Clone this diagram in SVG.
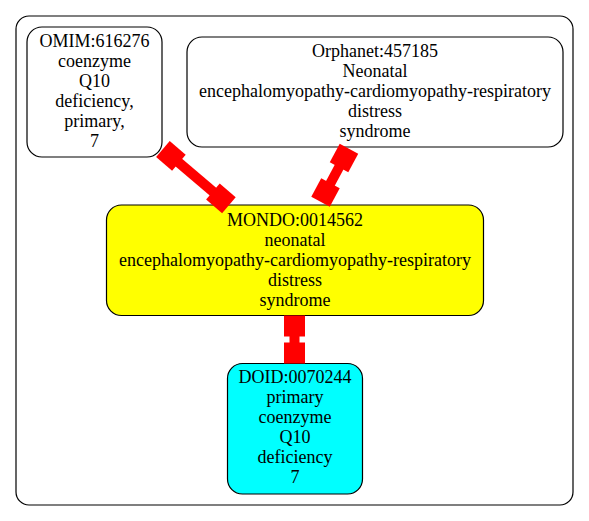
<svg xmlns="http://www.w3.org/2000/svg" width="589" height="521" viewBox="0 0 589 521">
<style>
.node{stroke:#000;stroke-width:1.2}
.t{font-family:"Liberation Serif","Times New Roman",serif;font-size:18px;text-anchor:middle;fill:#000}
.shaft{stroke:#f00;stroke-width:10;fill:none}
.tee{fill:#f00}
</style>
<defs>
<rect id="tee" class="tee" x="-10.5" y="-10.5" width="21" height="21"/>
</defs>
<rect x="16" y="16" width="557" height="489" rx="13" fill="#fff" stroke="#000" stroke-width="1.2"/>
<g id="node-omim">
<rect class="node" x="27" y="27" width="135" height="130" rx="15" fill="#fff"/>
<text class="t" x="94.5" y="46.5">OMIM:616276</text>
<text class="t" x="94.5" y="66.5">coenzyme</text>
<text class="t" x="94.5" y="86.5">Q10</text>
<text class="t" x="94.5" y="106.5">deficiency,</text>
<text class="t" x="94.5" y="126.5">primary,</text>
<text class="t" x="94.5" y="146.5">7</text>
</g>
<g id="node-orphanet">
<rect class="node" x="187" y="37" width="376" height="110" rx="15" fill="#fff"/>
<text class="t" x="375" y="56.5">Orphanet:457185</text>
<text class="t" x="375" y="76.5">Neonatal</text>
<text class="t" x="375" y="96.5">encephalomyopathy-cardiomyopathy-respiratory</text>
<text class="t" x="375" y="116.5">distress</text>
<text class="t" x="375" y="136.5">syndrome</text>
</g>
<g id="node-mondo">
<rect class="node" x="106.5" y="205" width="377" height="110.5" rx="15" fill="#ff0"/>
<text class="t" x="295" y="225.5">MONDO:0014562</text>
<text class="t" x="295" y="245.5">neonatal</text>
<text class="t" x="295" y="265.5">encephalomyopathy-cardiomyopathy-respiratory</text>
<text class="t" x="295" y="285.5">distress</text>
<text class="t" x="295" y="305.5">syndrome</text>
</g>
<g id="node-doid">
<rect class="node" x="227.5" y="363.5" width="135" height="130.5" rx="15" fill="#0ff"/>
<text class="t" x="295" y="383">DOID:0070244</text>
<text class="t" x="295" y="403">primary</text>
<text class="t" x="295" y="423">coenzyme</text>
<text class="t" x="295" y="443">Q10</text>
<text class="t" x="295" y="463">deficiency</text>
<text class="t" x="295" y="483">7</text>
</g>
<g id="connectors">
<g id="edge-omim-mondo">
<line class="shaft" x1="170.9" y1="155.9" x2="220.9" y2="198.4"/>
<use href="#tee" transform="translate(170.9,155.9) rotate(40.4)"/>
<use href="#tee" transform="translate(220.9,198.4) rotate(40.4)"/>
</g>
<g id="edge-orphanet-mondo">
<line class="shaft" x1="344" y1="158" x2="325.5" y2="192.5"/>
<use href="#tee" transform="translate(344,158) rotate(118.2)"/>
<use href="#tee" transform="translate(325.5,192.5) rotate(118.2)"/>
</g>
<g id="edge-mondo-doid">
<line class="shaft" x1="294.5" y1="326" x2="294.5" y2="353"/>
<use href="#tee" transform="translate(294.5,326)"/>
<use href="#tee" transform="translate(294.5,353)"/>
</g>
</g>
</svg>
